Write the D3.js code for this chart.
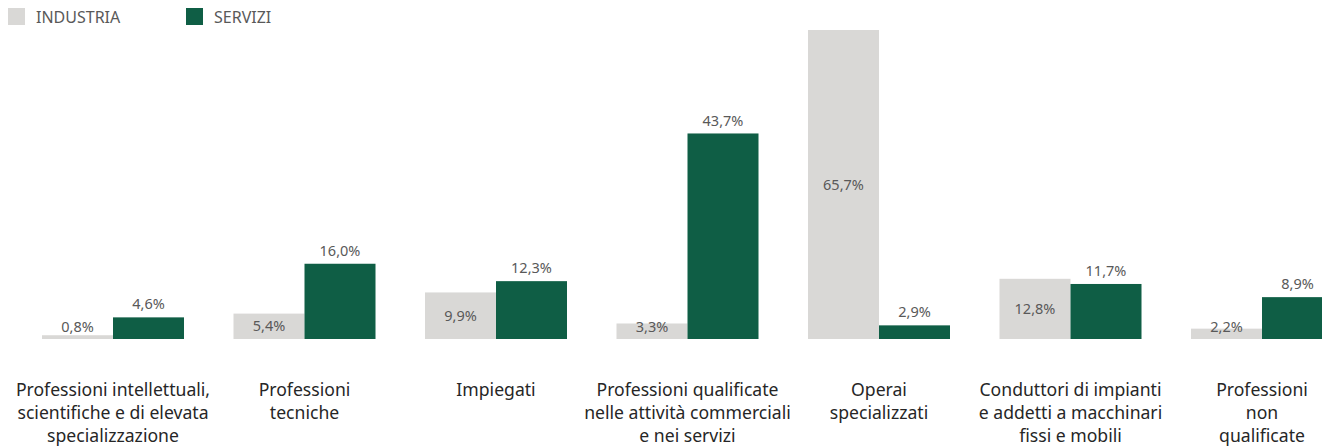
<!DOCTYPE html>
<html>
<head>
<meta charset="utf-8">
<script src="https://cdn.jsdelivr.net/npm/d3@7"></script>
<style>
  html, body { margin: 0; padding: 0; background: #fff; }
  svg { display: block; font-family: "Noto Sans", Lato, sans-serif; }
</style>
</head>
<body>
<svg id="chart" width="1322" height="447"></svg>
<script>
// Occupational groups (label lines) and hiring shares by sector, %
const categories = [
  ["Professioni intellettuali,", "scientifiche e di elevata", "specializzazione"],
  ["Professioni", "tecniche"],
  ["Impiegati"],
  ["Professioni qualificate", "nelle attività commerciali", "e nei servizi"],
  ["Operai", "specializzati"],
  ["Conduttori di impianti", "e addetti a macchinari", "fissi e mobili"],
  ["Professioni", "non", "qualificate"]
];
const seriesNames = ["INDUSTRIA", "SERVIZI"];
const industria = [0.8, 5.4, 9.9, 3.3, 65.7, 12.8, 2.2];
const servizi = [4.6, 16.0, 12.3, 43.7, 2.9, 11.7, 8.9];
const seriesColors = ["#d9d8d6", "#0f5e45"];

const svg = d3.select("#chart");
const baseY = 339, topY = 30;

const keys = categories.map((c, i) => "c" + i);
const x0 = d3.scaleBand().domain(keys).range([17.25, 1357.75])
  .paddingInner(0.2585).paddingOuter(0.12925);
const x1 = d3.scaleBand().domain(seriesNames).range([0, x0.bandwidth()]);
const y = d3.scaleLinear().domain([0, d3.max(industria.concat(servizi))]).range([baseY, topY]);

const fmt = v => d3.format(".1f")(v).replace(".", ",") + "%";

const rows = keys.map((k, i) => ({ key: k, values: [industria[i], servizi[i]] }));

const g = svg.append("g");
const groups = g.selectAll("g.grp").data(rows).join("g")
  .attr("transform", d => `translate(${x0(d.key)},0)`);

groups.selectAll("rect").data(d => d.values.map((v, j) => ({ s: seriesNames[j], v, j })))
  .join("rect")
  .attr("x", d => x1(d.s))
  .attr("y", d => y(d.v))
  .attr("width", x1.bandwidth())
  .attr("height", d => baseY - y(d.v))
  .attr("fill", d => seriesColors[d.j]);

// value labels: inside (centred) for industria, above bar for servizi
groups.selectAll("text.val").data(d => d.values.map((v, j) => ({ s: seriesNames[j], v, j })))
  .join("text")
  .attr("class", "val")
  .attr("x", d => x1(d.s) + x1.bandwidth() / 2)
  .attr("y", d => d.j === 0 ? Math.min((y(d.v) + baseY) / 2, baseY - 12) : y(d.v) - 13)
  .attr("dy", "0.35em")
  .attr("text-anchor", "middle")
  .attr("font-size", 14.5)
  .attr("fill", "#595959")
  .text(d => fmt(d.v));

// category labels under the groups
const xAxis = g.append("g");
rows.forEach((r, i) => {
  const t = xAxis.append("text")
    .attr("x", x0(r.key) + x0.bandwidth() / 2)
    .attr("y", 396)
    .attr("text-anchor", "middle")
    .attr("font-size", 17.6)
    .attr("fill", "#262626");
  categories[i].forEach((line, li) => {
    t.append("tspan").attr("x", x0(r.key) + x0.bandwidth() / 2)
      .attr("dy", li === 0 ? 0 : 23).text(line);
  });
});

// legend
const legend = svg.append("g");
const legX = [8, 186];
seriesNames.forEach((s, i) => {
  legend.append("rect").attr("x", legX[i]).attr("y", 8).attr("width", 17).attr("height", 17)
    .attr("fill", seriesColors[i]);
  legend.append("text").attr("x", legX[i] + 28).attr("y", 17).attr("dy", "0.35em")
    .attr("font-size", 16).attr("fill", "#595959").text(s);
});
</script>
</body>
</html>
